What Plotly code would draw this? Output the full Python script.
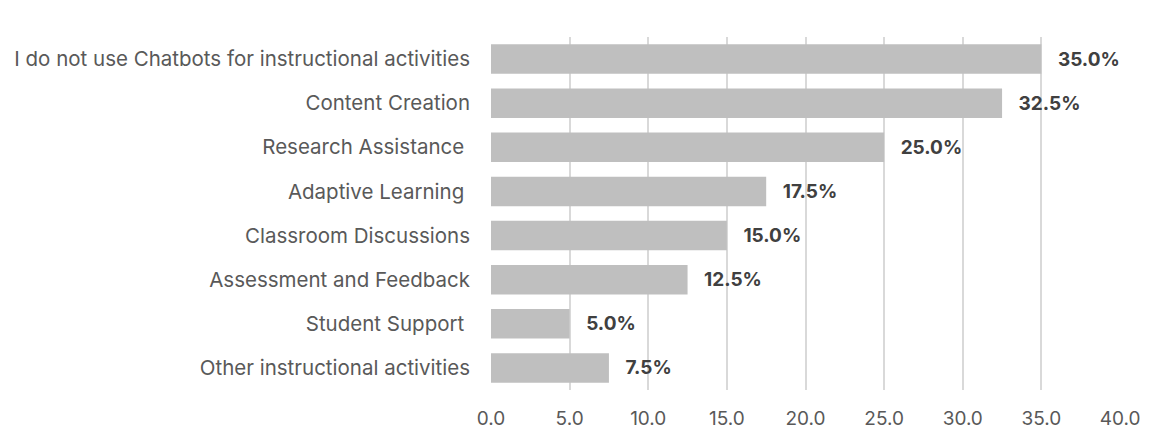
import plotly.graph_objects as go

categories = [
    "I do not use Chatbots for instructional activities",
    "Content Creation",
    "Research Assistance\u00a0",
    "Adaptive Learning\u00a0",
    "Classroom Discussions",
    "Assessment and Feedback",
    "Student Support\u00a0",
    "Other instructional activities",
]
values = [35.0, 32.5, 25.0, 17.5, 15.0, 12.5, 5.0, 7.5]
tick_vals = [0, 5, 10, 15, 20, 25, 30, 35, 40]
tick_text = ["0.0", "5.0", "10.0", "15.0", "20.0", "25.0", "30.0", "35.0", "40.0"]

fig = go.Figure(go.Bar(
    x=values, y=categories, orientation="h",
    marker=dict(color="#bfbfbf", line=dict(width=0)),
    width=0.67,
    text=[f"\u00a0\u00a0\u00a0{v:.1f}%" for v in values],
    textposition="outside",
    textfont=dict(family="Inter, Roboto, sans-serif", size=19, color="#404040", weight="bold"),
    cliponaxis=False,
))

fig.update_layout(
    width=1158, height=433,
    margin=dict(l=491, r=38, t=37, b=43),
    paper_bgcolor="white", plot_bgcolor="white",
    showlegend=False,
    font=dict(family="Inter, Roboto, sans-serif", size=18, color="#595959"),
    xaxis=dict(range=[0, 40], tickvals=tick_vals, ticktext=tick_text,
               showgrid=True, gridcolor="#d9d9d9", gridwidth=1.5,
               zeroline=False, showline=False, ticks="", ticklabelstandoff=15,
               automargin=False,
               tickfont=dict(size=19, color="#595959")),
    yaxis=dict(autorange="reversed", showgrid=False, zeroline=False, showline=False,
               ticks="", ticklabelstandoff=20, automargin=False,
               tickfont=dict(size=20.5, color="#595959")),
)

fig.write_html("out.html")
